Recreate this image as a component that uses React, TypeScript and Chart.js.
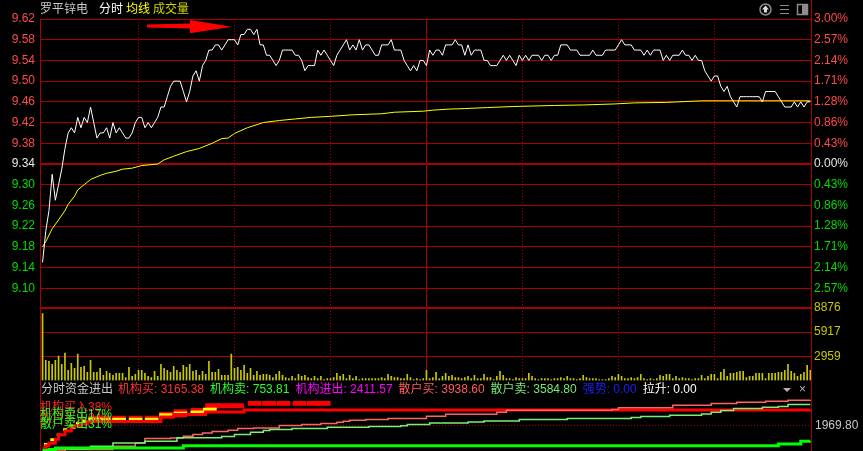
import React, { useEffect, useRef } from 'react';
import { Chart, registerables } from 'chart.js';

Chart.register(...registerables);

// ---------------- data ----------------
const stockName = '罗平锌电';
const headerTabs = ['分时', '均线', '成交量'];
const prevClose = 9.34;

// one value per minute, 241 minutes (index 0 = 9:30, 120 = 11:30/13:00, 240 = 15:00)
const priceValues = [
  9.15, 9.21, 9.25, 9.32, 9.27, 9.30, 9.33, 9.37, 9.40, 9.41,
  9.40, 9.43, 9.41, 9.43, 9.42, 9.45, 9.42, 9.39, 9.40, 9.40,
  9.41, 9.39, 9.42, 9.40, 9.41, 9.40, 9.39, 9.39, 9.40, 9.42,
  9.43, 9.43, 9.41, 9.42, 9.41, 9.42, 9.43, 9.45, 9.45, 9.47,
  9.49, 9.50, 9.50, 9.50, 9.48, 9.46, 9.48, 9.51, 9.52, 9.50,
  9.53, 9.54, 9.56, 9.56, 9.57, 9.57, 9.56, 9.57, 9.58, 9.58,
  9.58, 9.57, 9.59, 9.59, 9.60, 9.60, 9.59, 9.60, 9.57, 9.57,
  9.55, 9.55, 9.54, 9.53, 9.54, 9.56, 9.56, 9.56, 9.56, 9.55,
  9.55, 9.54, 9.52, 9.53, 9.53, 9.53, 9.56, 9.55, 9.56, 9.55,
  9.54, 9.53, 9.55, 9.56, 9.57, 9.58, 9.56, 9.57, 9.56, 9.58,
  9.56, 9.57, 9.57, 9.56, 9.55, 9.55, 9.57, 9.57, 9.57, 9.58,
  9.56, 9.56, 9.56, 9.54, 9.53, 9.52, 9.53, 9.52, 9.54, 9.54,
  9.53, 9.56, 9.55, 9.56, 9.56, 9.55, 9.57, 9.57, 9.57, 9.58,
  9.57, 9.57, 9.55, 9.57, 9.55, 9.56, 9.56, 9.56, 9.54, 9.54,
  9.53, 9.53, 9.53, 9.54, 9.55, 9.54, 9.55, 9.54, 9.53, 9.55,
  9.54, 9.55, 9.54, 9.55, 9.55, 9.55, 9.54, 9.55, 9.55, 9.54,
  9.55, 9.55, 9.57, 9.57, 9.57, 9.56, 9.56, 9.56, 9.55, 9.55,
  9.55, 9.55, 9.56, 9.55, 9.55, 9.55, 9.56, 9.56, 9.56, 9.56,
  9.57, 9.58, 9.57, 9.57, 9.57, 9.56, 9.56, 9.56, 9.55, 9.56,
  9.55, 9.56, 9.56, 9.56, 9.54, 9.55, 9.54, 9.55, 9.55, 9.55,
  9.56, 9.55, 9.55, 9.54, 9.55, 9.54, 9.54, 9.52, 9.51, 9.50,
  9.51, 9.51, 9.49, 9.48, 9.49, 9.47, 9.46, 9.45, 9.47, 9.47,
  9.47, 9.47, 9.47, 9.47, 9.47, 9.46, 9.48, 9.48, 9.48, 9.48,
  9.47, 9.46, 9.45, 9.45, 9.45, 9.46, 9.45, 9.46, 9.45, 9.46, 9.46,
];

const avgMinutes = [
  0, 1, 3, 5, 7, 8, 10, 11, 13, 15,
  18, 20, 23, 25, 28, 31, 36, 38, 41, 45,
  49, 53, 56, 58, 60, 64, 69, 74, 79, 84,
  90, 97, 106, 110, 119, 122, 127, 132, 139, 147,
  160, 169, 179, 185, 195, 206, 240,
];
const avgValues = [
  9.180, 9.190, 9.215, 9.232, 9.250, 9.262, 9.278, 9.290, 9.300, 9.310,
  9.318, 9.322, 9.326, 9.330, 9.332, 9.337, 9.340, 9.348, 9.355, 9.364,
  9.370, 9.380, 9.389, 9.390, 9.399, 9.410, 9.420, 9.424, 9.427, 9.430,
  9.432, 9.435, 9.437, 9.440, 9.442, 9.444, 9.446, 9.447, 9.449, 9.451,
  9.453, 9.454, 9.456, 9.458, 9.459, 9.462, 9.462,
];

const volumeValues = [
  8200, 2480, 2360, 1990, 2480, 2980, 1990, 3350, 1240, 2110,
  1490, 3230, 1610, 1740, 990, 2480, 990, 990, 1490, 620,
  1120, 870, 620, 870, 870, 870, 370, 1610, 500, 750,
  1240, 1240, 870, 500, 370, 1120, 500, 1990, 1490, 1240,
  990, 1740, 1240, 990, 1860, 1610, 1990, 1120, 1240, 620,
  1120, 750, 2360, 990, 990, 1370, 620, 620, 620, 3230,
  1490, 1610, 1240, 1860, 870, 1490, 620, 1120, 620, 750,
  750, 620, 370, 750, 1120, 620, 370, 250, 500, 250,
  750, 500, 620, 370, 250, 500, 250, 500, 120, 250,
  250, 370, 870, 500, 750, 250, 620, 250, 500, 120,
  250, 250, 250, 250, 250, 250, 370, 250, 750, 500,
  370, 370, 250, 250, 750, 370, 120, 250, 120, 250,
  1240, 250, 370,
  990, 250, 500, 870, 500, 620, 370, 370, 250, 370,
  500, 250, 620, 250, 250, 750, 370, 370, 120, 500,
  1120, 620, 250, 250, 120, 370, 250, 250, 250, 870,
  500, 250, 120, 250, 250, 250, 120, 250, 250, 370,
  250, 500, 250, 250, 120, 250, 620, 370, 250, 250,
  250, 120, 120, 120, 250, 500, 370, 750, 500, 250,
  250, 370, 250, 370, 750, 250, 120, 250, 120, 250,
  620, 500, 750, 750, 250, 500, 250, 370, 250, 250,
  120, 250, 250, 620, 250, 500, 750, 750, 250, 990,
  1370, 500, 870, 870, 990, 1120, 1120, 370, 500, 500,
  870, 870, 870, 250, 870, 870, 870, 990, 990, 1240,
  1990, 1120, 870, 500, 750, 990, 1860, 1240,
];

const priceTicks = [9.62, 9.58, 9.54, 9.50, 9.46, 9.42, 9.38, 9.34, 9.30, 9.26, 9.22, 9.18, 9.14, 9.10, 9.06];
const volumeTicks = [2959, 5917, 8876];
const fundTicks = [1969.80];
const timeLineMinutes = [30, 60, 90, 120, 150, 180, 210];
const middayMinute = 120;

// 分时资金进出 cumulative series (step lines)
const instBuyMinutes = [0, 1, 2, 4, 5, 7, 9, 10, 12, 14, 37, 41, 51, 63, 240];
const instBuyValues = [230, 400, 600, 900, 1250, 1550, 1800, 1950, 2100, 2270, 2627, 2813, 3006, 3161, 3165];
const instSellMinutes = [0, 2, 4, 44, 230, 237, 240];
const instSellValues = [30, 108, 232, 400, 541, 750, 754];
const retailBuyMinutes = [0, 7, 22, 29, 32, 40, 44, 47, 50, 53, 58, 61, 66, 74, 81, 87, 92, 94, 96, 101, 108, 120, 126, 142, 145, 178, 180, 197, 209, 217, 226, 233, 240];
const retailBuyValues = [0, 108, 363, 618, 958, 1005, 1136, 1267, 1391, 1499, 1600, 1731, 1777, 1963, 2040, 2117, 2218, 2295, 2372, 2427, 2504, 2682, 2836, 2991, 3145, 3199, 3340, 3532, 3663, 3764, 3841, 3918, 3938];
const retailSellMinutes = [0, 2, 15, 22, 32, 42, 56, 60, 65, 69, 71, 78, 89, 102, 112, 114, 121, 133, 138, 149, 164, 184, 187, 196, 206, 209, 212, 216, 225, 230, 233, 240];
const retailSellValues = [0, 155, 363, 618, 750, 1020, 1113, 1267, 1445, 1577, 1654, 1731, 1832, 1886, 1960, 2040, 2164, 2241, 2318, 2427, 2504, 2580, 2658, 2759, 2860, 2991, 3122, 3277, 3377, 3431, 3586, 3586];

// red / yellow blocks
const blockMinutes = [16.4, 19.2, 23.9, 29.1, 34.1, 38.6, 43.1, 48.4, 53, 56.7, 60.8, 66.3, 70.8, 75.3, 80.3, 84.8, 87.9];
const blockLows = [2380, 2380, 2380, 2380, 2380, 2550, 2627, 2740, 3323, 3323, 3323, 3520, 3520, 3520, 3520, 3520, 3520];
const blockHighs = [2700, 2700, 2700, 2700, 2700, 3000, 3199, 3300, 3663, 3663, 3663, 3841, 3841, 3841, 3841, 3841, 3841];
const yellowMinutes = [16.4, 19.2, 23.9, 29.1, 34.1, 38.6, 43.1, 48.4, 52.3];
const yellowLows = [2380, 2380, 2380, 2380, 2380, 2627, 2759, 2880, 3068];
const yellowHighs = [2540, 2540, 2540, 2540, 2540, 2890, 3014, 3100, 3323];
const earlyMinutes = [1, 3, 5, 7, 9, 11, 13];
const earlyLows = [420, 780, 1150, 1560, 1850, 2050, 2230];
const earlyHighs = [600, 960, 1330, 1740, 2030, 2230, 2410];

const fundTitle = '分时资金进出';
const fundSummaryLabels = ['机构买', '机构卖', '机构进出', '散户买', '散户卖', '强势', '拉升'];
const fundSummaryValues = [3165.38, 753.81, 2411.57, 3938.60, 3584.80, 0, 0];
const fundShareLabels = ['机构买入', '散户买入', '机构卖出', '散户卖出'];
const fundSharePercents = [38, 34, 17, 31];

// ---------------- styles ----------------
const NUM_FONT = '"Liberation Sans", Arial, sans-serif';
const CJK_FONT = '"Liberation Sans", "Noto Sans CJK SC", sans-serif';
const GRID_RED = '#a80000';
const UP_RED = '#ff4a4a';
const DOWN_GREEN = '#00dc00';
const FLAT_WHITE = '#e6e6e6';
const VOL_YELLOW = '#c8c800';
const X_MIN = -0.8;
const X_MAX = 240.2;
const summaryColors = ['#ff3232', '#28ff28', '#ff00ff', '#ff5c5c', '#72e872', '#1e1eff', '#ffffff'];
const shareColors = ['#ff2020', '#ff2020', '#20ff20', '#20ff20'];
const shareRowY = [27, 38, 34, 44];

const near = (a: number, b: number) => Math.abs(a - b) < 1e-6;
const fixedWidth = (w: number) => (scale: any) => { scale.width = w; };
const setTicks = (vals: number[]) => (scale: any) => { scale.ticks = vals.map((v) => ({ value: v })); };
const pts = (xs: number[], ys: any[]) => xs.map((x, i) => ({ x, y: ys[i] }));
const xScale = () => ({ type: 'linear', min: X_MIN, max: X_MAX, display: false, offset: false });
const baseOptions = (padTop: number, padBottom: number) => ({
  responsive: false,
  animation: false,
  events: [],
  layout: { padding: { top: padTop, bottom: padBottom, left: 0, right: 0 } },
  plugins: { legend: { display: false }, tooltip: { enabled: false } },
});
const alignPx = (p: number) => Math.round(p - 0.5) + 0.5;

const timeLinesPlugin = {
  id: 'timeLines',
  beforeDatasetsDraw(chart: any) {
    const { ctx, chartArea, scales } = chart;
    ctx.save();
    ctx.strokeStyle = GRID_RED;
    ctx.lineWidth = 1;
    timeLineMinutes.forEach((m) => {
      const x = alignPx(scales.x.getPixelForValue(m));
      ctx.setLineDash(m === middayMinute ? [] : [1, 2]);
      ctx.beginPath();
      ctx.moveTo(x, chartArea.top);
      ctx.lineTo(x, chartArea.bottom);
      ctx.stroke();
    });
    ctx.restore();
  },
};

const priceDecorPlugin = {
  id: 'priceDecor',
  afterDraw(chart: any) {
    const { ctx } = chart;
    ctx.save();
    ctx.textBaseline = 'middle';
    ctx.font = '12px ' + CJK_FONT;
    ctx.fillStyle = '#c8c8c8';
    ctx.fillText(stockName, 40, 10);
    const tabColors = ['#ffffff', '#ffff00', '#d2d200'];
    let x = 99;
    headerTabs.forEach((t, i) => {
      ctx.fillStyle = tabColors[i];
      ctx.fillText(t, x, 10);
      x += ctx.measureText(t).width + 3;
    });
    // red arrow annotation
    ctx.fillStyle = '#ff0000';
    ctx.beginPath();
    ctx.moveTo(147, 24.5);
    ctx.lineTo(191, 23.5);
    ctx.lineTo(191, 28.5);
    ctx.lineTo(147, 27.5);
    ctx.closePath();
    ctx.fill();
    ctx.beginPath();
    ctx.moveTo(190, 20);
    ctx.lineTo(232, 26.7);
    ctx.lineTo(190, 33.3);
    ctx.closePath();
    ctx.fill();
    // icons top-right
    ctx.strokeStyle = '#8c8c8c';
    ctx.lineWidth = 1.5;
    ctx.beginPath();
    ctx.arc(765.5, 9.5, 5.5, 0, Math.PI * 2);
    ctx.stroke();
    ctx.fillStyle = '#dcdcdc';
    ctx.beginPath();
    ctx.moveTo(765.5, 5.5);
    ctx.lineTo(769, 9.5);
    ctx.lineTo(767, 9.5);
    ctx.lineTo(767, 12.5);
    ctx.lineTo(764, 12.5);
    ctx.lineTo(764, 9.5);
    ctx.lineTo(762, 9.5);
    ctx.closePath();
    ctx.fill();
    ctx.lineWidth = 1;
    [5.5, 9.5, 13.5].forEach((y) => {
      ctx.beginPath();
      ctx.moveTo(780, y);
      ctx.lineTo(789, y);
      ctx.stroke();
    });
    ctx.lineWidth = 1.5;
    ctx.strokeRect(797.5, 4.5, 10, 10);
    ctx.fillStyle = '#8c8c8c';
    ctx.fillRect(802, 5, 5, 9);
    // right border above plot
    ctx.strokeStyle = GRID_RED;
    ctx.lineWidth = 1;
    const rx = alignPx(chart.chartArea.right);
    ctx.beginPath();
    ctx.moveTo(rx, 0);
    ctx.lineTo(rx, chart.chartArea.top);
    ctx.stroke();
    ctx.restore();
  },
};

const fundDecorPlugin = {
  id: 'fundDecor',
  beforeDatasetsDraw(chart: any) {
    const { ctx, chartArea, scales } = chart;
    ctx.save();
    ctx.strokeStyle = GRID_RED;
    ctx.lineWidth = 1;
    const y = alignPx(scales.yR.getPixelForValue(fundTicks[0]));
    ctx.setLineDash([1, 2]);
    ctx.beginPath();
    ctx.moveTo(chartArea.left, y);
    ctx.lineTo(chartArea.right, y);
    ctx.stroke();
    ctx.setLineDash([]);
    [chartArea.left, chartArea.right].forEach((px) => {
      const x = alignPx(px);
      ctx.beginPath();
      ctx.moveTo(x, 0);
      ctx.lineTo(x, chartArea.top);
      ctx.stroke();
    });
    ctx.restore();
  },
  afterDatasetsDraw(chart: any) {
    const { ctx } = chart;
    ctx.save();
    ctx.textBaseline = 'middle';
    ctx.font = '12px ' + CJK_FONT;
    let x = 41;
    ctx.fillStyle = '#c8c8c8';
    ctx.fillText(fundTitle, x, 9);
    x += ctx.measureText(fundTitle).width + 5;
    fundSummaryLabels.forEach((lab, i) => {
      const t = lab + ': ' + fundSummaryValues[i].toFixed(2);
      ctx.fillStyle = summaryColors[i];
      ctx.fillText(t, x, 9);
      x += ctx.measureText(t).width + 6;
    });
    // dropdown + close
    ctx.fillStyle = '#b4b4b4';
    ctx.beginPath();
    ctx.moveTo(783, 7);
    ctx.lineTo(791, 7);
    ctx.lineTo(787, 11);
    ctx.closePath();
    ctx.fill();
    ctx.fillText('×', 799, 9);
    // share labels
    fundShareLabels.forEach((lab, i) => {
      ctx.fillStyle = shareColors[i];
      ctx.fillText(lab + fundSharePercents[i] + '%', 40, shareRowY[i]);
    });
    ctx.restore();
  },
};

function priceConfig(): any {
  const tickColor = (c: any) => {
    const v = c.tick.value;
    if (near(v, prevClose)) return FLAT_WHITE;
    return v > prevClose ? UP_RED : DOWN_GREEN;
  };
  const lastTick = priceTicks[priceTicks.length - 1];
  return {
    type: 'line',
    data: {
      datasets: [
        { label: '价格', data: pts(priceValues.map((_, i) => i), priceValues), borderColor: '#ffffff', borderWidth: 1, pointRadius: 0, tension: 0, yAxisID: 'yL', order: 1 },
        { label: '均线', data: pts(avgMinutes, avgValues), borderColor: '#ffff00', borderWidth: 1, pointRadius: 0, tension: 0, yAxisID: 'yL', order: 2 },
      ],
    },
    options: {
      ...baseOptions(19, 13),
      scales: {
        x: xScale(),
        yL: {
          position: 'left', min: lastTick, max: priceTicks[0],
          afterBuildTicks: setTicks(priceTicks), afterFit: fixedWidth(40),
          grid: {
            drawTicks: false,
            color: (c: any) => (c.tick && near(c.tick.value, lastTick) ? 'rgba(0,0,0,0)' : GRID_RED),
            lineWidth: (c: any) => (c.tick && near(c.tick.value, prevClose) ? 2 : 1),
          },
          border: { display: true, color: GRID_RED, width: 1 },
          ticks: { padding: 5, autoSkip: false, color: tickColor, font: { family: NUM_FONT, size: 12 },
            callback: (v: number) => (near(v, lastTick) ? '' : Number(v).toFixed(2)) },
        },
        yR: {
          position: 'right', min: lastTick, max: priceTicks[0],
          afterBuildTicks: setTicks(priceTicks), afterFit: fixedWidth(52),
          grid: { display: false, drawTicks: false },
          border: { display: true, color: GRID_RED, width: 1 },
          ticks: { padding: 3, autoSkip: false, color: tickColor, font: { family: NUM_FONT, size: 12 },
            callback: (v: number) => (near(v, lastTick) ? '' : (Math.abs((v - prevClose) / prevClose) * 100).toFixed(2) + '%') },
        },
      },
    },
    plugins: [timeLinesPlugin, priceDecorPlugin],
  };
}

function volumeConfig(): any {
  const top = volumeTicks[volumeTicks.length - 1];
  return {
    type: 'bar',
    data: {
      datasets: [
        { label: '成交量', data: pts(volumeValues.map((_, i) => i), volumeValues), backgroundColor: VOL_YELLOW, barThickness: 1, yAxisID: 'yR' },
      ],
    },
    options: {
      ...baseOptions(18, 13.5),
      scales: {
        x: xScale(),
        yL: {
          position: 'left', min: 0, max: top, afterFit: fixedWidth(40),
          ticks: { display: false }, grid: { display: false, drawTicks: false },
          border: { display: true, color: GRID_RED, width: 1 },
        },
        yR: {
          position: 'right', min: 0, max: top,
          afterBuildTicks: setTicks(volumeTicks), afterFit: fixedWidth(52),
          grid: { drawTicks: false, color: GRID_RED, lineWidth: (c: any) => (c.tick && c.tick.value === top ? 2 : 1) },
          border: { display: true, color: GRID_RED, width: 1 },
          ticks: { padding: 3, autoSkip: false, color: VOL_YELLOW, font: { family: NUM_FONT, size: 12 },
            callback: (v: number) => String(Math.round(v)) },
        },
      },
    },
    plugins: [timeLinesPlugin],
  };
}

function fundConfig(): any {
  const fundMax = 4250;
  const stepLine = (label: string, xs: number[], ys: number[], color: string, width: number, order: number) => ({
    type: 'line', label, data: pts(xs, ys), borderColor: color, borderWidth: width, stepped: true,
    pointRadius: 0, yAxisID: 'yR', order,
  });
  const blocks = (label: string, xs: number[], lo: number[], hi: number[], color: string, thick: number, order: number) => ({
    type: 'bar', label, data: xs.map((x, i) => ({ x, y: [lo[i], hi[i]] })), backgroundColor: color,
    barThickness: thick, grouped: false, yAxisID: 'yR', order,
  });
  return {
    type: 'line',
    data: {
      datasets: [
        blocks('红块', blockMinutes, blockLows, blockHighs, '#ff0000', 13, 7),
        blocks('黄块', yellowMinutes, yellowLows, yellowHighs, '#ffff00', 13, 6),
        blocks('早盘', earlyMinutes, earlyLows, earlyHighs, '#ffff00', 3, 5),
        stepLine('机构买', instBuyMinutes, instBuyValues, '#ff0000', 3, 4),
        stepLine('散户买', retailBuyMinutes, retailBuyValues, '#ff6464', 1.5, 3),
        stepLine('散户卖', retailSellMinutes, retailSellValues, '#78f078', 1.5, 2),
        stepLine('机构卖', instSellMinutes, instSellValues, '#00ff00', 3, 1),
      ],
    },
    options: {
      ...baseOptions(15, 13),
      scales: {
        x: xScale(),
        yL: {
          position: 'left', min: 0, max: fundMax, afterFit: fixedWidth(40),
          ticks: { display: false }, grid: { display: false, drawTicks: false },
          border: { display: true, color: GRID_RED, width: 1 },
        },
        yR: {
          position: 'right', min: 0, max: fundMax,
          afterBuildTicks: setTicks(fundTicks), afterFit: fixedWidth(52),
          grid: { display: false, drawTicks: false },
          border: { display: true, color: GRID_RED, width: 1 },
          ticks: { padding: 4, autoSkip: false, color: '#c8c8c8', font: { family: NUM_FONT, size: 12 },
            callback: (v: number) => Number(v).toFixed(2) },
        },
      },
    },
    plugins: [fundDecorPlugin],
  };
}

export default function App() {
  const priceRef = useRef<HTMLCanvasElement>(null);
  const volRef = useRef<HTMLCanvasElement>(null);
  const fundRef = useRef<HTMLCanvasElement>(null);

  useEffect(() => {
    Chart.defaults.font.family = NUM_FONT;
    Chart.defaults.font.size = 12;
    const charts = [
      new Chart(priceRef.current as HTMLCanvasElement, priceConfig()),
      new Chart(volRef.current as HTMLCanvasElement, volumeConfig()),
      new Chart(fundRef.current as HTMLCanvasElement, fundConfig()),
    ];
    return () => charts.forEach((c) => c.destroy());
  }, []);

  const abs = (top: number): React.CSSProperties => ({ position: 'absolute', left: 0, top });
  return (
    <div style={{ position: 'fixed', left: 0, top: 0, width: 863, height: 451, overflow: 'hidden', background: '#000' }}>
      <canvas ref={fundRef} width={863} height={83} style={abs(381)} />
      <canvas ref={volRef} width={863} height={104} style={abs(290)} />
      <canvas ref={priceRef} width={863} height={322} style={abs(0)} />
    </div>
  );
}
